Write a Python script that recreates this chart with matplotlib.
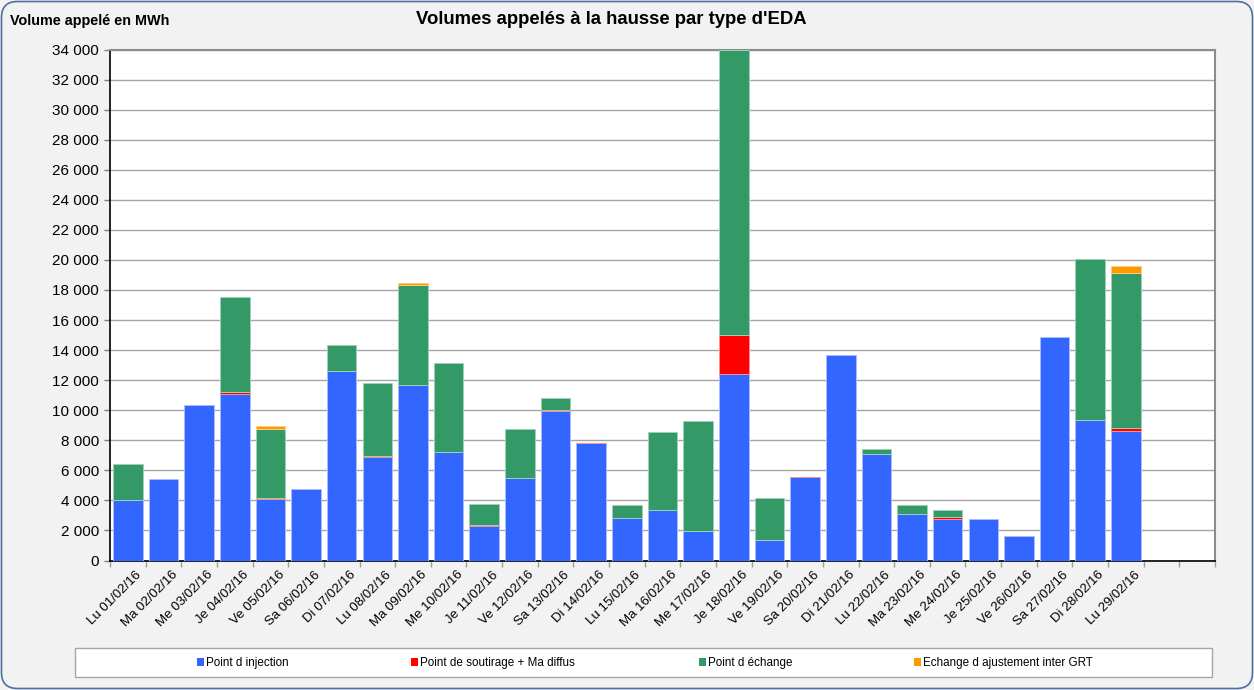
# Volumes appelés à la hausse par type d'EDA - février 2016
import matplotlib
matplotlib.use("Agg")
import matplotlib.pyplot as plt
from matplotlib.patches import Patch, FancyBboxPatch, Rectangle
from matplotlib.ticker import FuncFormatter, FixedLocator
from matplotlib.transforms import IdentityTransform
import numpy as np

plt.rcParams['font.family'] = ['Liberation Sans', 'DejaVu Sans']

'''data'''
jours = ["Lu 01/02/16", "Ma 02/02/16", "Me 03/02/16", "Je 04/02/16", "Ve 05/02/16",
         "Sa 06/02/16", "Di 07/02/16", "Lu 08/02/16", "Ma 09/02/16", "Me 10/02/16",
         "Je 11/02/16", "Ve 12/02/16", "Sa 13/02/16", "Di 14/02/16", "Lu 15/02/16",
         "Ma 16/02/16", "Me 17/02/16", "Je 18/02/16", "Ve 19/02/16", "Sa 20/02/16",
         "Di 21/02/16", "Lu 22/02/16", "Ma 23/02/16", "Me 24/02/16", "Je 25/02/16",
         "Ve 26/02/16", "Sa 27/02/16", "Di 28/02/16", "Lu 29/02/16"]
injection = [4050, 5410, 10320, 11050, 4090, 4750, 12590, 6910, 11660, 7200,
             2270, 5520, 9960, 7800, 2830, 3330, 1940, 12440, 1390, 5550,
             13650, 7110, 3110, 2760, 2780, 1660, 14840, 9340, 8630]
soutirage = [0, 0, 0, 150, 85, 0, 0, 70, 30, 30,
             115, 0, 30, 40, 0, 0, 0, 2580, 0, 30,
             0, 0, 0, 110, 0, 0, 0, 0, 160]
echange = [2380, 0, 0, 6360, 4560, 0, 1720, 4800, 6670, 5890,
           1400, 3210, 830, 0, 880, 5200, 7360, 18980, 2760, 0,
           0, 310, 600, 510, 0, 0, 0, 10720, 10340]
ajustement = [0, 0, 0, 0, 200, 0, 0, 0, 130, 0,
              0, 0, 0, 0, 0, 0, 0, 0, 0, 0,
              0, 0, 0, 0, 0, 0, 0, 0, 470]
series = [("Point d injection", injection, "#3366ff", "#a8bcff"),
          ("Point de soutirage + Ma diffus", soutirage, "#ff0000", "#ff9090"),
          ("Point d échange", echange, "#339966", "#a0d0b8"),
          ("Echange d ajustement inter GRT", ajustement, "#ff9900", "#ffcc80")]
n_slots = 31  # the excel axis has two empty days at the end

'''figure'''
fig = plt.figure(figsize=(12.54, 6.9), dpi=100, facecolor="#f2f2f2")
ax = fig.add_axes([110 / 1254, 1 - 560.5 / 690, 1105 / 1254, 511 / 690])
ax.set_facecolor("white")

x = np.arange(len(jours))
bottom = np.zeros(len(jours))
for name, vals, col, edge in series:
    vals = np.array(vals, dtype=float)
    heights = np.where(vals > 0, vals, np.nan)  # no edge line for empty segments
    ax.bar(x, heights, 0.83, bottom=bottom, color=col, edgecolor=edge,
           linewidth=0.7, label=name, zorder=3)
    bottom += vals

ax.set_xlim(-0.5, n_slots - 0.5)
ax.set_ylim(0, 34000)
ax.set_yticks(np.arange(0, 34001, 2000))
ax.yaxis.set_major_formatter(FuncFormatter(lambda v, p: "{:,}".format(int(v)).replace(",", " ")))
ax.grid(axis='y', color="#a6a6a6", linewidth=1, zorder=0)
ax.tick_params(axis='y', length=4, width=1, color="#808080", labelsize=11, pad=4)

# category labels a bit right of the bar centre (like excel), ticks between the days
ax.set_xticks(x + 0.22)
ax.set_xticklabels(jours, rotation=45, ha='right', va='top', rotation_mode='anchor',
                   fontsize=9.5)
ax.tick_params(axis='x', which='major', length=0, pad=6)
ax.xaxis.set_minor_locator(FixedLocator(np.arange(-0.5, n_slots, 1)))
ax.tick_params(axis='x', which='minor', length=4, width=1, color="#a0a0a0")

ax.spines['left'].set_color("black")
ax.spines['bottom'].set_color("black")
ax.spines['left'].set_linewidth(1.2)
ax.spines['bottom'].set_linewidth(1.2)
ax.spines['top'].set_color("#8c8c8c")
ax.spines['right'].set_color("#8c8c8c")
ax.spines['top'].set_linewidth(1.5)
ax.spines['right'].set_linewidth(1.5)

# titles
fig.text(611 / 1254, 1 - 20 / 690, "Volumes appelés à la hausse par type d'EDA",
         ha='center', va='center', fontsize=13.3, fontweight='bold')
fig.text(10 / 1254, 1 - 21 / 690, "Volume appelé en MWh", ha='left', va='center',
         fontsize=10.4, fontweight='bold')

# legend box, each entry placed where excel put it
fig.add_artist(Rectangle((75 / 1254, 1 - 677 / 690), 1137 / 1254, 29 / 690,
                         transform=fig.transFigure, facecolor="white",
                         edgecolor="#a6a6a6", linewidth=1))
leg_x = [197, 411, 699, 914]
for (name, vals, col, edge), lx in zip(series, leg_x):
    lg = fig.legend(handles=[Patch(facecolor=col, edgecolor='none')], labels=[name],
                    loc='center left', bbox_to_anchor=(lx / 1254, 1 - 663 / 690),
                    frameon=False, fontsize=8.4, handlelength=0.6, handleheight=0.6,
                    handletextpad=0.15, borderpad=0, borderaxespad=0)

# rounded outer border
fig.add_artist(FancyBboxPatch((1.5, 1.5), 1251, 687,
                              boxstyle="round,pad=0,rounding_size=16",
                              transform=IdentityTransform(), facecolor='none',
                              edgecolor="#4f6fa0", linewidth=1.2))

fig.savefig("out.png", dpi=100, facecolor=fig.get_facecolor())
